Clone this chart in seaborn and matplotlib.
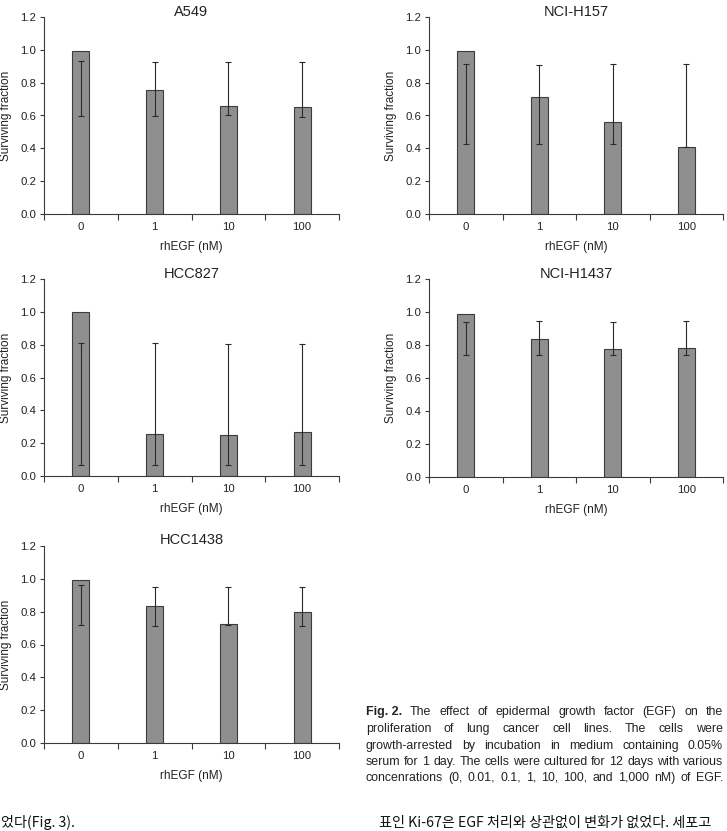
import matplotlib
matplotlib.use("Agg")
import matplotlib.pyplot as plt
import seaborn as sns
import pandas as pd
import numpy as np
from matplotlib.ticker import FixedLocator

sns.set_theme(style="white")
plt.rcParams['font.family'] = ['Liberation Sans', 'DejaVu Sans']

doses = ["0", "1", "10", "100"]

a549_mean = [0.99, 0.755, 0.655, 0.65]
a549_lo = [0.60, 0.60, 0.605, 0.59]
a549_hi = [0.93, 0.925, 0.925, 0.925]

h157_mean = [0.99, 0.71, 0.56, 0.41]
h157_lo = [0.425, 0.425, 0.425, 0.41]
h157_hi = [0.915, 0.91, 0.915, 0.915]

hcc827_mean = [1.0, 0.255, 0.25, 0.265]
hcc827_lo = [0.065, 0.07, 0.07, 0.065]
hcc827_hi = [0.81, 0.81, 0.805, 0.805]

h1437_mean = [0.99, 0.835, 0.775, 0.78]
h1437_lo = [0.74, 0.74, 0.74, 0.74]
h1437_hi = [0.94, 0.945, 0.94, 0.945]

hcc1438_mean = [0.995, 0.835, 0.725, 0.795]
hcc1438_lo = [0.72, 0.71, 0.72, 0.715]
hcc1438_hi = [0.96, 0.95, 0.95, 0.95]

panels = [
    ("A549", a549_mean, a549_lo, a549_hi),
    ("NCI-H157", h157_mean, h157_lo, h157_hi),
    ("HCC827", hcc827_mean, hcc827_lo, hcc827_hi),
    ("NCI-H1437", h1437_mean, h1437_lo, h1437_hi),
    ("HCC1438", hcc1438_mean, hcc1438_lo, hcc1438_hi),
]

W, H = 727, 831
fig = plt.figure(figsize=(W / 100, H / 100), dpi=100)
fig.patch.set_facecolor("white")

# axes boxes in pixel coords: (left, right, top, bottom)
boxes = [
    (44, 339, 17, 214),
    (429, 723, 17, 214),
    (44, 339, 279, 476),
    (429, 723, 279, 477),
    (44, 339, 546, 743),
]

TXT = "#222222"
SPINE = "#3a3a3a"

for (name, mean, lo, hi), (l, r, t, b) in zip(panels, boxes):
    ax = fig.add_axes([l / W, 1 - b / H, (r - l) / W, (b - t) / H])
    df = pd.DataFrame({"dose": doses, "value": mean})
    sns.barplot(data=df, x="dose", y="value", order=doses, width=0.23,
                color="#8f8f8f", edgecolor="#3c3c3c", linewidth=0.8,
                saturation=1, errorbar=None, ax=ax)
    lo_a, hi_a = np.array(lo), np.array(hi)
    mid = (lo_a + hi_a) / 2
    half = (hi_a - lo_a) / 2
    ax.errorbar(np.arange(len(doses)), mid, yerr=half, fmt="none",
                ecolor="#2a2a2a", elinewidth=0.8, capsize=2.2, capthick=0.8)
    ax.set_xlim(-0.5, len(doses) - 0.5)
    ax.set_ylim(0, 1.2)
    ax.set_yticks(np.arange(0, 1.21, 0.2))
    ax.set_yticklabels([f"{v:.1f}" for v in np.arange(0, 1.21, 0.2)])
    ax.xaxis.set_minor_locator(FixedLocator(np.arange(-0.5, len(doses), 1.0)))
    ax.tick_params(axis="x", which="major", length=0, pad=6, labelsize=8.2, colors=TXT)
    ax.tick_params(axis="x", which="minor", length=4.5, width=0.8, color=SPINE, direction="out", bottom=True)
    ax.tick_params(axis="y", which="major", length=3, width=0.8, color=SPINE, direction="out",
                   left=True, pad=2.5, labelsize=8.2, labelcolor=TXT)
    for s in ["top", "right"]:
        ax.spines[s].set_visible(False)
    for s in ["left", "bottom"]:
        ax.spines[s].set_color(SPINE)
        ax.spines[s].set_linewidth(0.8)
    ax.set_facecolor("white")
    ax.grid(False)
    ax.set_xlabel("rhEGF (nM)", fontsize=8.5, color=TXT)
    ax.xaxis.set_label_coords(0.5, -33 / (b - t))
    ax.xaxis.label.set_va("center")
    ax.set_ylabel("Surviving fraction", fontsize=8.5, color=TXT)
    ax.yaxis.set_label_coords(-38 / (r - l), 0.5)
    ax.yaxis.label.set_va("center")
    ax.text(0.5, 1 + 5.5 / (b - t), name, transform=ax.transAxes, ha="center",
            va="center", fontsize=10.5, color=TXT)

# Caption, justified
cap_lines = [
    [("Fig. 2.", "bold")] + [(w, "normal") for w in "The effect of epidermal growth factor (EGF) on the".split()],
    [(w, "normal") for w in "proliferation of lung cancer cell lines. The cells were".split()],
    [(w, "normal") for w in "growth-arrested by incubation in medium containing 0.05%".split()],
    [(w, "normal") for w in "serum for 1 day. The cells were cultured for 12 days with various".split()],
    [(w, "normal") for w in "concenrations (0, 0.01, 0.1, 1, 10, 100, and 1,000 nM) of EGF.".split()],
]
cap_y = [712, 729, 746, 762, 778]
x0, x1 = 366, 723
renderer = fig.canvas.get_renderer()
for words, yc in zip(cap_lines, cap_y):
    arts = []
    widths = []
    for w, wt in words:
        tx = fig.text(0, 1 - yc / H, w, fontsize=8.9, fontweight=wt, color=TXT,
                      va="center", ha="left")
        arts.append(tx)
        widths.append(tx.get_window_extent(renderer).width)
    gap = (x1 - x0 - sum(widths)) / (len(words) - 1)
    x = x0
    for tx, wd in zip(arts, widths):
        tx.set_x(x / W)
        x += wd + gap

# Korean body text fragments
fig.text(1 / W, 1 - 823 / H, "었다(Fig. 3).", fontsize=10.2, color="#111111", va="center", ha="left",
         family=["Noto Sans CJK KR", "DejaVu Sans"])
fig.text(379 / W, 1 - 823 / H, "표인 Ki-67은 EGF 처리와 상관없이 변화가 없었다. 세포고",
         fontsize=10.2, color="#111111", va="center", ha="left",
         family=["Noto Sans CJK KR", "DejaVu Sans"])

fig.savefig("out.png", dpi=100, facecolor="white")
